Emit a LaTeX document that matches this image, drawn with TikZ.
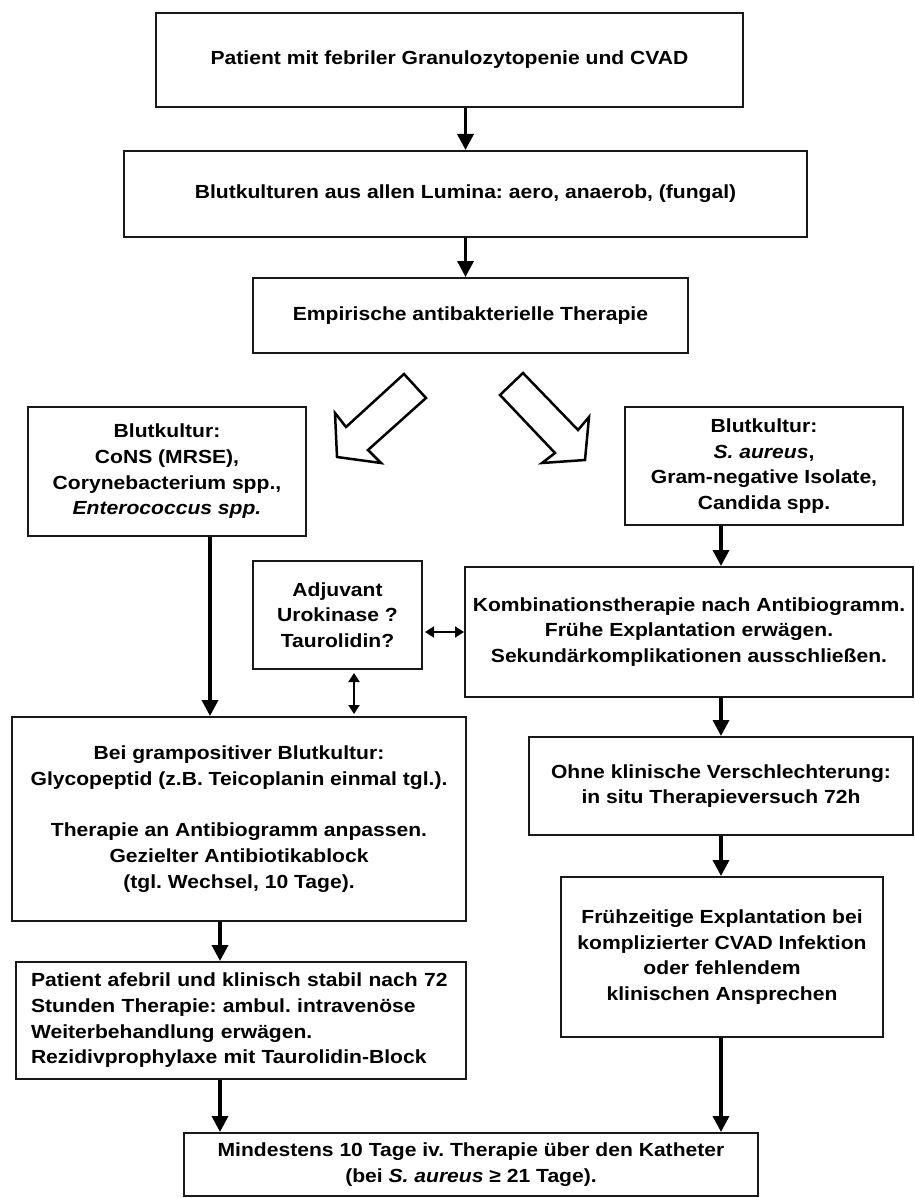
\documentclass[tikz,border=0pt]{standalone}
\usepackage{fontspec}
\setmainfont{Liberation Sans}[FakeStretch=1.11]
\usetikzlibrary{arrows.meta}
\frenchspacing
\tikzset{
  box/.style={draw=black!90, line width=2pt, inner sep=0pt, align=center, font=\fontsize{19}{25.7}\selectfont\bfseries\frenchspacing},
  arr/.style={line width=3.5pt, -{Triangle[length=16pt,width=16pt]}},
  darr/.style={line width=2pt, {Triangle[length=9pt,width=11pt]}-{Triangle[length=9pt,width=11pt]}},
  hollow/.style={draw=black, line width=2.5pt, fill=white, line join=miter}
}
\begin{document}
\begin{tikzpicture}[x=1pt,y=-1pt]
\fill[white] (0,0) rectangle (914,1198);
\useasboundingbox (0,0) rectangle (914,1198);

\node[box, minimum width=587pt, minimum height=94pt] (b1) at (449.5,60) {Patient mit febriler Granulozytopenie und CVAD};
\node[box, minimum width=683pt, minimum height=86pt] (b2) at (465.5,194) {Blutkulturen aus allen Lumina: aero, anaerob, (fungal)};
\node[box, minimum width=435pt, minimum height=75pt] (b3) at (470.5,315.5) {Empirische antibakterielle Therapie};

\node[box, minimum width=278pt, minimum height=129pt] (bl) at (167,471.5) {Blutkultur:\\ CoNS (MRSE),\\ Corynebacterium spp.,\\ \textit{Enterococcus spp.}};
\node[box, minimum width=278pt, minimum height=118pt] (br) at (764,466) {Blutkultur:\\ \textit{S. aureus},\\ Gram-negative Isolate,\\ Candida spp.};

\node[box, minimum width=169pt, minimum height=108pt] (adj) at (337.5,615) {Adjuvant\\ Urokinase ?\\ Taurolidin?};
\node[box, minimum width=448pt, minimum height=130pt] (komb) at (689,632) {Kombinationstherapie nach Antibiogramm.\\ Frühe Explantation erwägen.\\ Sekundärkomplikationen ausschließen.};

\node[box, minimum width=454pt, minimum height=204pt] (bei) at (239,819) {Bei grampositiver Blutkultur:\\ Glycopeptid (z.B. Teicoplanin einmal tgl.).\\[25.7pt] Therapie an Antibiogramm anpassen.\\ Gezielter Antibiotikablock\\ (tgl. Wechsel, 10 Tage).};
\node[box, minimum width=384pt, minimum height=98pt] (ohne) at (721,786) {Ohne klinische Verschlechterung:\\ in situ Therapieversuch 72h};
\node[box, minimum width=322pt, minimum height=160pt] (frueh) at (722,957) {Frühzeitige Explantation bei\\ komplizierter CVAD Infektion\\ oder fehlendem\\ klinischen Ansprechen};

\node[box, minimum width=450pt, minimum height=117pt, text width=420pt, inner xsep=15pt, align=left] (pat) at (241,1020.5) {Patient afebril und klinisch stabil nach 72\\ Stunden Therapie: ambul. intravenöse\\ Weiterbehandlung erwägen.\\ Rezidivprophylaxe mit Taurolidin-Block};

\node[box, minimum width=574pt, minimum height=63pt] (mind) at (471,1164.5) {Mindestens 10 Tage iv. Therapie über den Katheter\\ (bei \textit{S. aureus} ≥ 21 Tage).};

\coordinate (cL) at (210,0);
\coordinate (cL2) at (220,0);
\coordinate (cR) at (721,0);
\coordinate (cD) at (354,0);

\draw[arr] (b1.south -| b2.north) -- (b2.north);
\draw[arr] (b2.south) -- (b2.south |- b3.north);
\draw[arr] (bl.south -| cL) -- (bei.north -| cL);
\draw[arr] (br.south -| cR) -- (komb.north -| cR);
\draw[arr] (komb.south -| cR) -- (ohne.north -| cR);
\draw[arr] (ohne.south -| cR) -- (frueh.north -| cR);
\draw[arr] (frueh.south -| cR) -- (mind.north -| cR);
\draw[arr] (bei.south -| cL2) -- (pat.north -| cL2);
\draw[arr] (pat.south -| cL2) -- (mind.north -| cL2);
\draw[darr, shorten <=2pt] (adj.east |- komb.west) -- (komb.west);
\draw[darr, shorten <=3pt, shorten >=2pt] (adj.south -| cD) -- (bei.north -| cD);

\draw[hollow] (404,374) -- (426,398) -- (368,450) -- (381,463) -- (337,457) -- (335,413) -- (346,427) -- cycle;
\draw[hollow] (523,373) -- (500,395) -- (555,453) -- (542,463) -- (585,460) -- (589,417) -- (578,430) -- cycle;
\end{tikzpicture}
\end{document}
